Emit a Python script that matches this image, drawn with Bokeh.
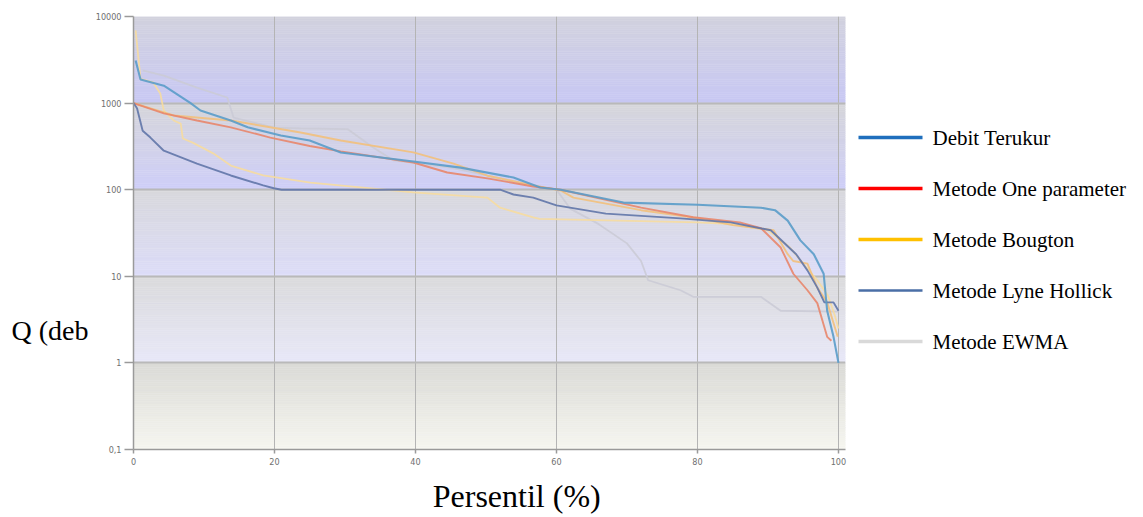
from bokeh.plotting import figure
from bokeh.models import FixedTicker, CustomJSTickFormatter, Range1d
from bokeh.layouts import row, column
from bokeh.core.properties import value
from bokeh.embed import file_html
from bokeh.resources import INLINE
import numpy as np

# ---------------- data ----------------
x_ticks = [0, 20, 40, 60, 80, 100]
y_ticks = [0.1, 1, 10, 100, 1000, 10000]

pct_terukur = [0.3, 1.0, 4.3, 8.1, 9.5, 13.8, 16.2, 20.9, 25.0, 29.4, 39.7, 46.4, 53.9, 57.7,
               60.6, 69.5, 80.0, 89.0, 91.0, 92.8, 94.6, 96.5, 97.9, 98.4, 99.3, 100.0]
q_terukur = [3100, 1870, 1590, 1000, 822, 630, 525, 423, 370, 269, 212, 180, 138, 106,
             100, 71, 67, 62, 58, 44, 26, 18, 10.7, 4, 2, 1]

pct_onepar = [0, 4.3, 9.0, 13.8, 19.4, 25.0, 29.4, 39.7, 44.5, 50.2, 56.7, 60.6, 72.0, 79.4,
              86.0, 89.0, 91.8, 93.6, 95.6, 97.0, 98.4, 99.0]
q_onepar = [1000, 760, 630, 525, 400, 320, 277, 206, 158, 135, 109, 100, 62, 48,
            42, 36, 21.5, 10.7, 6.9, 4.9, 2.0, 1.8]

pct_bougton = [0, 5.7, 13.8, 23.7, 29.4, 39.7, 45.4, 50.2, 56.7, 60.6, 62.4, 72.0, 80.0, 85.0,
               90.8, 92.8, 93.6, 95.6, 97.0, 98.4, 99.9]
q_bougton = [1000, 720, 630, 458, 370, 270, 200, 145, 112, 98, 81, 58, 47, 39,
             34, 18, 15, 14, 7.4, 5, 2]

pct_extra = [0.3, 1.0, 2.8, 3.8, 4.3, 5.7, 6.7, 7.0, 8.4, 11.3, 13.8, 18.4, 25.1, 39.7, 50.2,
             52.0, 56.7, 57.6, 80.0, 85.0, 90.0, 93.0, 95.0, 97.0, 98.5, 99.5, 100.0]
q_extra = [6900, 1900, 1730, 1290, 820, 630, 580, 390, 350, 263, 190, 146, 121, 93, 81,
           62, 48, 46, 42, 40, 34, 22, 14, 9, 6, 3.5, 2.5]

pct_lyne = [0, 0.5, 1.3, 2.4, 4.3, 9.0, 13.8, 18.4, 19.9, 21.0, 52.0, 53.9, 56.7, 60.0, 67.0,
            77.6, 84.7, 90.4, 94.0, 95.6, 97.0, 98.0, 99.3, 100.0]
q_lyne = [1000, 870, 480, 400, 282, 200, 146, 112, 104, 100, 100, 88, 81, 66, 53,
          46.6, 42, 34, 18, 11.7, 7.4, 5, 5, 4]

pct_ewma = [1.3, 4.3, 9.0, 13.3, 14.2, 20.0, 23.7, 30.4, 34.0, 36.9, 45.0, 55.0, 60.0, 62.0,
            66.0, 70.0, 72.0, 73.0, 77.6, 79.4, 89.0, 91.8, 100.0]
q_ewma = [2380, 2080, 1510, 1160, 680, 520, 510, 500, 307, 218, 180, 120, 100, 60,
          40, 24, 15, 9, 6.9, 5.8, 5.8, 4.0, 3.9]

legend_labels = ["Debit Terukur", "Metode One parameter", "Metode Bougton",
                 "Metode Lyne Hollick", "Metode EWMA"]
legend_colors = ["#1f6fbd", "#ff0000", "#ffc000", "#4a6ea6", "#d9d9d9"]
legend_widths = [3.5, 3.5, 3.5, 2.5, 3.5]

x_title = "Persentil (%)"
y_title = "Q (deb"

# decade band colours (top -> bottom), from highest decade to lowest
band_top = ["#d2d2de", "#d6d6da", "#d8d8dc", "#dadadc", "#dadad6"]
band_bot = ["#c8c8f4", "#ceceF8", "#dcdcf8", "#e8e8f8", "#f6f6f0"]

SERIF = value("Liberation Serif")

LEFT_W, MAIN_W, LEG_W = 92, 758, 293


def blank(width, height):
    f = figure(width=width, height=height, x_range=Range1d(0, width), y_range=Range1d(height, 0),
               output_backend="svg", toolbar_location=None, min_border=0,
               x_axis_location=None, y_axis_location=None,
               background_fill_color="white", border_fill_color="white")
    f.outline_line_color = None
    f.xgrid.visible = False
    f.ygrid.visible = False
    return f


# ---------------- main plot ----------------
p = figure(width=MAIN_W, height=474, y_axis_type="log",
           x_range=(0, 101), y_range=(0.1, 10000),
           output_backend="svg", toolbar_location=None,
           min_border_left=41, min_border_right=5,
           min_border_top=16, min_border_bottom=25,
           background_fill_color="white", border_fill_color="white")
p.outline_line_color = None


def hex2rgb(h):
    h = h.lstrip("#")
    return np.array([int(h[i:i + 2], 16) for i in (0, 2, 4)], dtype=float)


decades = sorted(y_ticks)[::-1]
qb, qt, ql, qr, qc = [], [], [], [], []
n_sub = 40
for i in range(len(decades) - 1):
    hi, lo = np.log10(decades[i]), np.log10(decades[i + 1])
    c0, c1 = hex2rgb(band_top[i]), hex2rgb(band_bot[i])
    edges = np.linspace(hi, lo, n_sub + 1)
    for k in range(n_sub):
        f = (k + 0.5) / n_sub
        c = c0 + (c1 - c0) * f
        qt.append(10 ** edges[k])
        qb.append(10 ** edges[k + 1])
        ql.append(0)
        qr.append(101)
        qc.append("#%02x%02x%02x" % tuple(int(round(v)) for v in c))
p.quad(left=ql, right=qr, top=qt, bottom=qb, fill_color=qc, line_color=qc,
       line_width=0.5, level="image")

series = [
    (pct_ewma, q_ewma, "#cbcbd6", 1.8),
    (pct_extra, q_extra, "#f6dca0", 1.8),
    (pct_bougton, q_bougton, "#f2c07c", 1.9),
    (pct_onepar, q_onepar, "#e8866c", 1.9),
    (pct_lyne, q_lyne, "#6076a8", 1.9),
    (pct_terukur, q_terukur, "#5a9cc9", 2.1),
]
for xs, ys, col, w in series:
    p.line(xs, ys, line_color=col, line_width=w, line_alpha=0.9)

p.xaxis.ticker = FixedTicker(ticks=x_ticks)
p.yaxis.ticker = FixedTicker(ticks=y_ticks)
p.yaxis.formatter = CustomJSTickFormatter(
    code="return tick < 1 ? tick.toString().replace('.', ',') : tick.toFixed(0);")
for ax in (p.xaxis, p.yaxis):
    ax.axis_line_color = "#9a9a9a"
    ax.axis_line_width = 1.5
    ax.major_tick_line_color = "#9a9a9a"
    ax.major_tick_line_width = 1.5
    ax.minor_tick_line_color = None
    ax.major_tick_in = 0
    ax.major_label_text_font = "Liberation Sans Narrow, DejaVu Sans Condensed, sans-serif"
    ax.major_label_text_font_size = "9px"
    ax.major_label_text_color = "#707070"
p.yaxis.major_tick_out = 9
p.yaxis.major_label_standoff = 3
p.xaxis.major_tick_out = 4
p.xaxis.major_label_standoff = 4

p.ygrid.grid_line_color = "#b9b9b9"
p.ygrid.grid_line_width = 2
p.xgrid.grid_line_color = "#b4b4b4"
p.xgrid.grid_line_width = 1

# ---------------- y title strip (left) ----------------
left = blank(LEFT_W, 517)
left.text(x=[11], y=[330], text=[y_title], text_font=SERIF, text_font_size="28px",
          text_color="black", text_align="left", text_baseline="middle")

# ---------------- x title strip (below) ----------------
below = blank(MAIN_W, 43)
below.text(x=[500 - LEFT_W], y=[21], text=[x_title], text_font=SERIF, text_font_size="32px",
           text_color="black", text_align="center", text_baseline="middle")

# ---------------- legend strip (right) ----------------
leg = blank(LEG_W, 517)
n = len(legend_labels)
ys = [137 + 51 * i for i in range(n)]
leg.segment(x0=[8] * n, x1=[72] * n, y0=ys, y1=ys, line_color=legend_colors,
            line_width=legend_widths)
leg.text(x=[82] * n, y=ys, text=legend_labels, text_font=SERIF, text_font_size="21px",
         text_color="black", text_align="left", text_baseline="middle")

layout = row(left, column(p, below, spacing=0), leg, spacing=0)

open("out.html", "w").write(file_html(layout, INLINE))
